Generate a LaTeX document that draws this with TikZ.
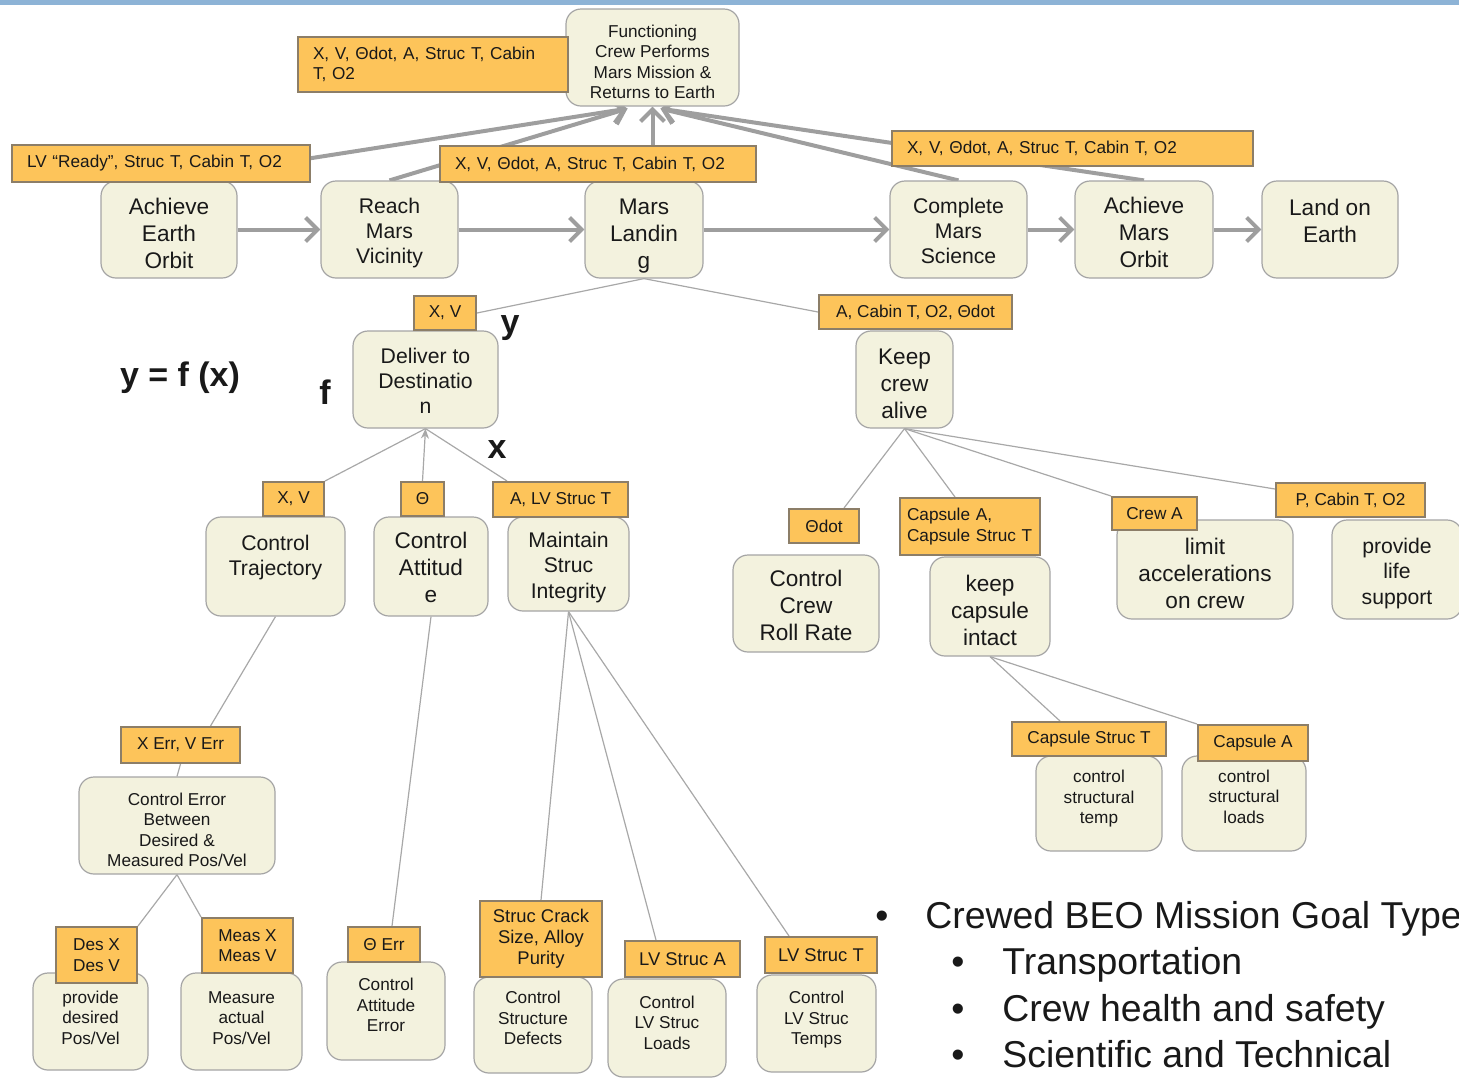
\documentclass[tikz,border=0pt]{standalone}
\usepackage{fontspec}
\setmainfont{Liberation Sans}
\usetikzlibrary{arrows.meta,calc}
\pgfdeclarelayer{bg}
\pgfsetlayers{bg,main}
\definecolor{cream}{RGB}{243,242,222}
\definecolor{goalbd}{RGB}{165,165,165}
\definecolor{orng}{RGB}{253,196,90}
\definecolor{orngbd}{RGB}{140,126,104}
\definecolor{arrowgray}{RGB}{158,158,158}
\definecolor{linegray}{RGB}{168,168,168}
\definecolor{topbar}{RGB}{141,179,214}
\definecolor{ink}{RGB}{25,25,25}
\newcommand\gl[2][-3.2pt]{\raisebox{#1}[\height][\depth]{\begin{tabular}{@{}c@{}}#2\end{tabular}}}
\tikzset{
  sz/.style 2 args={minimum width=#1*0.5pt, minimum height=#2*0.5pt},
  goal/.style={draw=goalbd, fill=cream, rounded corners=7.5pt, line width=0.6pt, align=center, inner sep=1pt, text=ink},
  big/.style={font=\fontsize{11.3}{13.5}\selectfont},
  med/.style={font=\fontsize{10.6}{12.7}\selectfont},
  sml/.style={font=\fontsize{8.6}{10.3}\selectfont},
  tag/.style={draw=orngbd, fill=orng, line width=1pt, align=center, inner sep=1pt, font=\fontsize{8.6}{10.3}\selectfont, text=ink},
  tagm/.style={tag, font=\fontsize{9.2}{10.6}\selectfont},
  tagl/.style={tag, align=left, inner xsep=7.5pt},
  flow/.style={draw=arrowgray, line width=2pt, -{Straight Barb[length=6pt,width=12pt]}},
  tie/.style={draw=linegray, line width=0.6pt},
  sym/.style={font=\bfseries\fontsize{17}{20}\selectfont, text=ink, inner sep=0pt},
  bul/.style={font=\fontsize{18.7}{22}\selectfont, text=ink, inner sep=0pt},
}
\begin{document}
\begin{tikzpicture}[x=0.5pt,y=-0.5pt]
\useasboundingbox (0,0) rectangle (1459,1077);
\clip (0,0) rectangle (1459,1077);
\fill[topbar] (0,0) rectangle (1459,5);

% goal nodes
\node[goal,sml,sz={173}{97}] (F) at (652.5,57.5) {\gl{Functioning\\Crew Performs\\Mars Mission \&\\Returns to Earth}};
\node[goal,big,sz={136}{97}] (A1) at (169,229.5) {\gl{Achieve\\Earth\\Orbit}};
\node[goal,med,sz={137}{97}] (A2) at (389.5,229.5) {\gl[-2pt]{Reach\\Mars\\Vicinity}};
\node[goal,big,sz={118}{97}] (A3) at (644,229.5) {\gl{Mars\\Landin\\g}};
\node[goal,med,sz={137}{97}] (A4) at (958.5,229.5) {\gl[-2pt]{Complete\\Mars\\Science}};
\node[goal,big,sz={138}{97}] (A5) at (1144,229.5) {\gl[-3pt]{Achieve\\Mars\\Orbit}};
\node[goal,big,sz={136}{97}] (A6) at (1330,229.5) {\gl[2.8pt]{Land on\\Earth}};
\node[goal,med,sz={145}{97}] (D) at (425.5,379.5) {\gl[-2pt]{Deliver to\\Destinatio\\n}};
\node[goal,big,sz={97}{97}] (K) at (904.5,379.5) {\gl{Keep\\crew\\alive}};
\node[goal,med,sz={139}{99}] (CT) at (275.5,566.5) {\gl[-2pt]{Control\\Trajectory\\\mbox{}}};
\node[goal,big,sz={114}{99}] (CA) at (431,566.5) {\gl[-2pt]{Control\\Attitud\\e}};
\node[goal,med,sz={121}{94}] (MS) at (568.5,564) {\gl[-1.8pt]{Maintain\\Struc\\Integrity}};
\node[goal,sml,sz={196}{97}] (CE) at (177,825.5) {\gl{Control Error\\Between\\Desired \&\\Measured Pos/Vel}};
\node[goal,sml,sz={115}{97}] (PD) at (90.5,1021.5) {\gl[1pt]{provide\\desired\\Pos/Vel}};
\node[goal,sml,sz={121}{97}] (MA) at (241.5,1021.5) {\gl[1pt]{Measure\\actual\\Pos/Vel}};
\node[goal,sml,sz={118}{98}] (CAE) at (386,1011) {\gl[2pt]{Control\\Attitude\\Error}};
\node[goal,sml,sz={118}{96}] (CSD) at (533,1025) {\gl[2.4pt]{Control\\Structure\\Defects}};
\node[goal,sml,sz={118}{98}] (CLL) at (667,1028) {\gl[1.6pt]{Control\\LV Struc\\Loads}};
\node[goal,sml,sz={119}{97}] (CLT) at (816.5,1023.5) {\gl[1.8pt]{Control\\LV Struc\\Temps}};
\node[goal,big,sz={146}{97}] (CR) at (806,603.5) {\gl[-2.2pt]{Control\\Crew\\Roll Rate}};
\node[goal,big,sz={120}{99}] (KC) at (990,606.5) {\gl{keep\\capsule\\intact}};
\node[goal,big,sz={176}{99}] (LIM) at (1205,569.5) {\gl{limit\\accelerations\\on crew}};
\node[goal,med,sz={130}{99}] (PL) at (1397,569.5) {\gl[-2.2pt]{provide\\life\\support}};
\node[goal,sml,sz={126}{95}] (CSTN) at (1099,803.5) {\gl[2.2pt]{control\\structural\\temp}};
\node[goal,sml,sz={124}{95}] (CSLN) at (1244,803.5) {\gl[2.4pt]{control\\structural\\loads}};

% tags
\node[tagl,sz={270}{55},text width=120pt] (L0) at (433,64.5) {X, V, Θdot, A, Struc T, Cabin\\T, O2};
\node[tagl,sz={298}{37},text width=134pt] (L1) at (161,163.5) {LV “Ready”, Struc T, Cabin T, O2};
\node[tagl,sz={316}{36},text width=143pt] (L2) at (598,164) {X, V, Θdot, A, Struc T, Cabin T, O2};
\node[tagl,sz={361}{35},text width=165.5pt] (L3) at (1072.5,148.5) {X, V, Θdot, A, Struc T, Cabin T, O2};
\node[tag,sz={62}{34}] (XV) at (445,313) {X, V};
\node[tag,sz={193}{34}] (KCA) at (915.5,312) {A, Cabin T, O2, Θdot};
\node[tag,sz={61}{34}] (XV2) at (293.5,499) {X, V};
\node[tag,sz={43}{34}] (TH) at (422.5,499) {Θ};
\node[tag,sz={135}{35}] (ALV) at (560.5,499.5) {A, LV Struc T};
\node[tag,sz={119}{36}] (XE) at (180.5,745) {X Err, V Err};
\node[tag,sz={81}{56}] (DX) at (96.5,955) {Des X\\Des V};
\node[tag,sz={91}{55}] (MX) at (247.5,945.5) {Meas X\\Meas V};
\node[tag,sz={72}{35}] (TE) at (384,944.5) {Θ Err};
\node[tagm,sz={122}{76}] (SC) at (541,939) {Struc Crack\\Size, Alloy\\Purity};
\node[tagm,sz={115}{36}] (LA) at (682.5,959) {LV Struc A};
\node[tagm,sz={112}{36}] (LT) at (821,955) {LV Struc T};
\node[tag,sz={70}{34}] (TD) at (824,526) {Θdot};
\node[tagl,sz={140}{57},text width=63pt,inner xsep=3.5pt] (CAP) at (970,526.5) {Capsule A,\\Capsule Struc T};
\node[tag,sz={85}{33}] (CRA) at (1154.5,513.5) {Crew A};
\node[tag,sz={149}{34}] (PC) at (1350.5,500) {P, Cabin T, O2};
\node[tag,sz={154}{34}] (CST) at (1089,739) {Capsule Struc T};
\node[tag,sz={110}{36}] (CAL) at (1253,743) {Capsule A};

% symbols
\node[sym] (yfx) at (180,378) {y = f (x)};
\node[sym] (ysym) at (510,328) {y};
\node[sym] (fsym) at (325,392) {f};
\node[sym] (xsym) at (497,450) {x};

% bullets
\node[bul,anchor=base] (b0) at (882,928) {\textbullet};
\node[bul,anchor=base west] (g0) at (925,928) {Crewed BEO Mission Goal Types};
\node[bul,anchor=base] (b1) at (958,974) {\textbullet};
\node[bul,anchor=base west] (g1) at (1002,974) {Transportation};
\node[bul,anchor=base] (b2) at (958,1021) {\textbullet};
\node[bul,anchor=base west] (g2) at (1002,1021) {Crew health and safety};
\node[bul,anchor=base] (b3) at (958,1067) {\textbullet};
\node[bul,anchor=base west] (g3) at (1002,1067) {Scientific and Technical};

\begin{pgfonlayer}{bg}
  % thick flow arrows
  \draw[flow] (A1.east) -- (A2.west);
  \draw[flow] (A2.east) -- (A3.west);
  \draw[flow] (A3.east) -- (A4.west);
  \draw[flow] (A4.east) -- (A5.west);
  \draw[flow] (A5.east) -- (A6.west);
  \draw[flow] (A1.north) -- ($(F.south)+(-25,2)$);
  \draw[flow] (A2.north) -- ($(F.south)+(-25,2)$);
  \draw[flow] (A3.north -| F.south) -- (F.south);
  \draw[flow] (A4.north) -- ($(F.south)+(8,2)$);
  \draw[flow] (A5.north) -- ($(F.south)+(8,2)$);
  % tree lines
  \draw[tie] (A3.south) -- (XV.east);
  \draw[tie] (A3.south) -- (KCA.west);
  \draw[tie] (D.south) -- (XV2.north east);
  \draw[tie,{Stealth[length=5pt,width=4pt]}-] (D.south) -- (TH.north);
  \draw[tie] (D.south) -- ($(ALV.north west)+(15,0)$);
  \draw[tie] (CT.south) -- ($(XE.north)+(30,0)$);
  \draw[tie] (XE.south) -- (CE.north);
  \draw[tie] (CE.south) -- (DX.north east);
  \draw[tie] (CE.south) -- (MX.north west);
  \draw[tie] (CA.south) -- ($(TE.north)+(8,0)$);
  \draw[tie] (MS.south) -- (SC.north);
  \draw[tie] (MS.south) -- ($(LA.north west)+(32,0)$);
  \draw[tie] (MS.south) -- ($(LT.north west)+(25,0)$);
  \draw[tie] (K.south) -- ($(TD.north)+(20,0)$);
  \draw[tie] (K.south) -- ($(CAP.north)+(-15,0)$);
  \draw[tie] (K.south) -- (CRA.north west);
  \draw[tie] (K.south) -- ($(PC.north west)+(0,7)$);
  \draw[tie] (KC.south) -- ($(CST.north)+(-29,0)$);
  \draw[tie] (KC.south) -- (CAL.north west);
\end{pgfonlayer}
\end{tikzpicture}
\end{document}
